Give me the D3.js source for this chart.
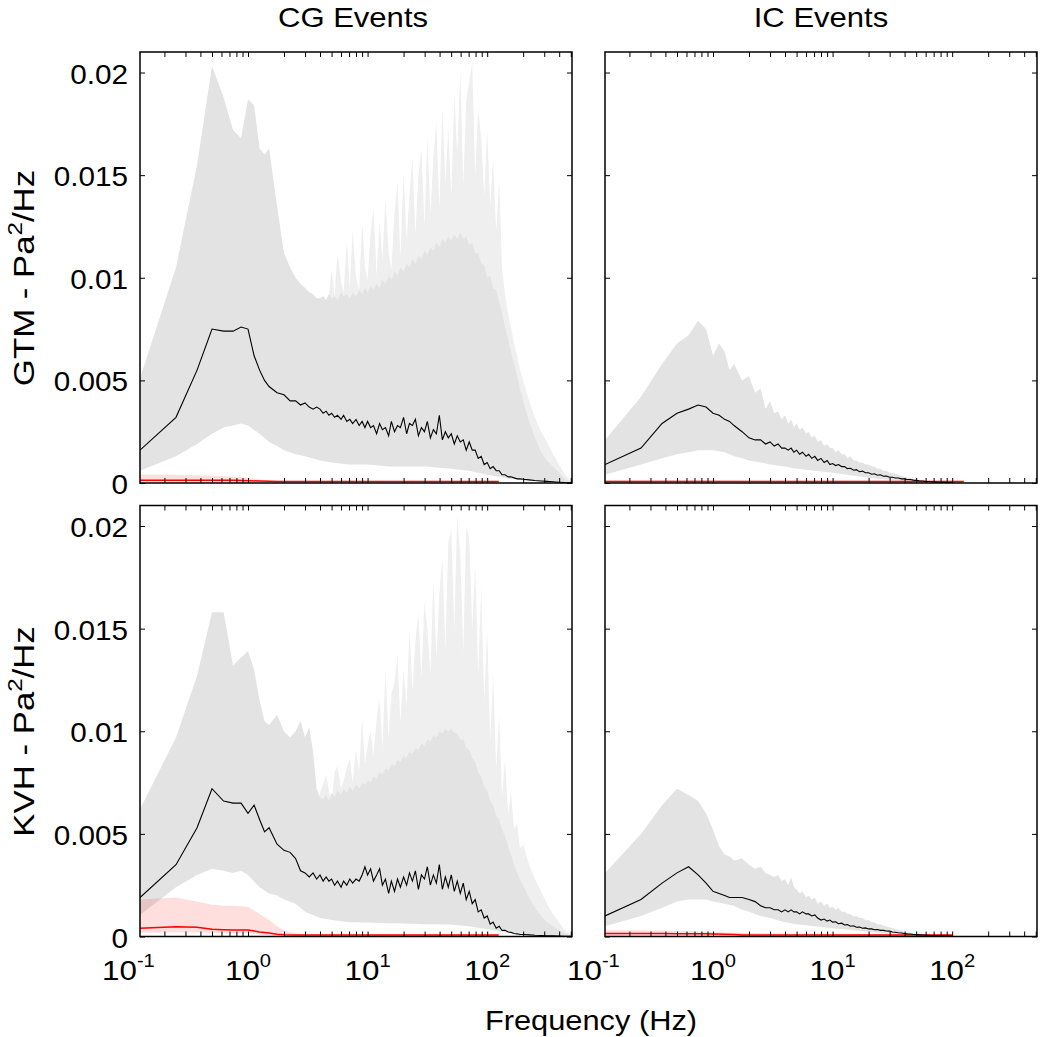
<!DOCTYPE html>
<html>
<head>
<meta charset="utf-8">
<script src="https://cdn.jsdelivr.net/npm/d3@7"></script>
<style>
  body { margin: 0; background: #fff; }
  text { font-family: "Liberation Sans", Arial, Helvetica, sans-serif; fill: #000; }
</style>
</head>
<body>
<svg id="chart" width="1040" height="1037"></svg>
<script>
// frequency grid (Hz) for mean / upper band
const freqs = [0.125,0.25,0.375,0.5,0.625,0.75,0.875,1,1.125,1.25,1.375,1.5,1.75,2,2.25,2.5,2.75,3,3.25,3.5,3.75,
  4,4.25,4.5,4.75,5,5.3,5.6,6,6.3,6.7,7.1,7.5,8,8.5,9,9.5,
  10,10.6,11.2,11.9,12.6,13.3,14.1,15,15.8,16.8,17.8,18.8,
  20,21.2,22.4,23.7,25.1,26.6,28.2,29.9,31.6,33.5,35.5,37.6,39.8,42.2,44.7,47.3,
  50.1,53.1,56.2,59.6,63.1,66.8,70.8,75,79.4,84.1,89.1,94.4,
  100,106,112,119,126,133,141,150,158,168,178,188,
  200,224,251,282,316,355,398,447,500];
// coarse grid for lower band, noise band and noise line
const coarseF = [0.125,0.25,0.375,0.5,0.625,0.75,0.875,1,1.25,1.5,1.75,2,2.5,3,4,5,7,10,15,20,30,50,70,100,125,150,200,300,400,512];

// CG events, GTM
const cgGtmMean = [0.0016,0.0032,0.0055,0.0075,0.0074,0.0074,0.0076,0.0075,0.0062,0.0055,0.0050,0.0047,0.0044,0.0043,0.0040,0.0040,0.0038,0.0039,0.0037,0.0036,0.0037,
  0.0036,0.0034,0.0035,0.0033,0.0034,0.0032,0.0033,0.0031,0.0033,0.0030,0.0031,0.0029,0.0031,0.0028,0.0030,0.0027,
  0.0030,0.0027,0.0028,0.0024,0.0029,0.0026,0.0027,0.0023,0.0030,0.0025,0.0028,0.0027,
  0.0032,0.0024,0.0029,0.0028,0.0031,0.0023,0.0027,0.0025,0.0030,0.0022,0.0026,0.0024,0.0033,0.0021,0.0025,0.0022,
  0.0024,0.0019,0.0023,0.0020,0.0021,0.0016,0.0020,0.0016,0.0016,0.0012,0.0013,0.0009,
  0.0010,0.0007,0.0008,0.0006,0.0006,0.0004,0.0004,0.0003,0.0003,0.00025,0.0002,0.0002,
  0.00018,0.00015,0.00012,0.0001,0.00008,0.00006,0.00004,0.00002,0.00001];
const cgGtmUpper = [0.0051,0.0105,0.0155,0.0203,0.0188,0.0172,0.0168,0.0187,0.0184,0.0163,0.0160,0.0163,0.0135,0.0112,0.0105,0.0100,0.0097,0.0095,0.0093,0.0092,0.0090,
  0.0090,0.0091,0.0089,0.0092,0.0090,0.0091,0.0089,0.0093,0.0091,0.0092,0.0090,0.0093,0.0091,0.0094,0.0092,0.0095,
  0.0093,0.0096,0.0094,0.0097,0.0095,0.0099,0.0097,0.0101,0.0099,0.0103,0.0101,0.0105,
  0.0103,0.0107,0.0105,0.0109,0.0107,0.0111,0.0109,0.0113,0.0111,0.0115,0.0113,0.0117,0.0115,0.0119,0.0117,0.0120,
  0.0118,0.0121,0.0119,0.0122,0.0119,0.0120,0.0116,0.0117,0.0112,0.0112,0.0107,0.0106,
  0.0100,0.0101,0.0095,0.0094,0.0088,0.0083,0.0076,0.0070,0.0064,0.0058,0.0052,0.0046,
  0.0040,0.0030,0.0022,0.0015,0.0011,0.0008,0.0005,0.0002,0.00005];
// spiky envelope, from 4 Hz on (freqs index 21..)
const cgGtmSpike = [0.0090,0.0091,0.0089,0.0092,0.0104,0.0091,0.0112,0.0098,0.0093,0.0118,0.0095,0.0123,0.0100,0.0094,0.0128,0.0105,
  0.0099,0.0122,0.0134,0.0101,0.0127,0.0108,0.0139,0.0112,0.0104,0.0132,0.0146,0.0110,
  0.0151,0.0118,0.0140,0.0158,0.0121,0.0150,0.0163,0.0125,0.0169,0.0131,0.0158,0.0176,0.0134,0.0183,0.0146,0.0172,
  0.0140,0.0190,0.0160,0.0201,0.0145,0.0186,0.0196,0.0205,0.0150,0.0182,0.0168,0.0140,
  0.0172,0.0135,0.0158,0.0122,0.0148,0.0105,0.0092,0.0082,0.0076,0.0068,0.0062,0.0055,
  0.0050,0.0040,0.0032,0.0025,0.0020,0.0014,0.0009,0.0004,0.0001];
const cgGtmLower = [0.0006,0.0013,0.0019,0.0024,0.0027,0.0028,0.0029,0.0028,0.0024,0.0020,0.0018,0.0016,0.0014,0.0013,0.0011,0.0010,0.0009,0.0009,0.0008,0.0008,0.0008,0.0007,0.0006,0.0004,0.0003,0.00022,0.00013,0.00005,0.00002,0];
const cgGtmPink = [0.0004,0.0004,0.00038,0.00035,0.00033,0.0003,0.00028,0.00025,0.00017,0.00013,0.00012,0.00011,0.0001,0.0001,0.0001,0.0001,0.0001,0.0001,0.0001,0.0001,0.0001,0.0001,0.0001,0.0001,0.0001,null,null,null,null,null];
const cgGtmRed = [0.00014,0.00014,0.00014,0.00013,0.00013,0.00013,0.00012,0.00011,0.0001,0.00008,0.00007,0.00007,0.00007,0.00007,0.00007,0.00007,0.00007,0.00007,0.00007,0.00007,0.00007,0.00007,0.00007,0.00007,0.00007,null,null,null,null,null];

// CG events, KVH
const cgKvhMean = [0.0019,0.0035,0.0053,0.0072,0.0066,0.0065,0.0065,0.0060,0.0064,0.0057,0.0051,0.0053,0.0045,0.0042,0.0041,0.0038,0.0032,0.0031,0.0029,0.0031,0.0028,
  0.0030,0.0027,0.0029,0.0027,0.0028,0.0025,0.0027,0.0024,0.0027,0.0025,0.0028,0.0026,0.0028,0.0027,0.0030,0.0034,
  0.0030,0.0033,0.0027,0.0030,0.0033,0.0025,0.0028,0.0021,0.0027,0.0022,0.0028,0.0024,
  0.0029,0.0025,0.0031,0.0027,0.0032,0.0023,0.0030,0.0028,0.0034,0.0025,0.0030,0.0026,0.0035,0.0023,0.0029,0.0024,
  0.0030,0.0022,0.0027,0.0021,0.0026,0.0018,0.0022,0.0016,0.0018,0.0012,0.0013,0.0009,
  0.0010,0.0006,0.0007,0.0004,0.0005,0.0003,0.0003,0.00022,0.0002,0.00015,0.00013,0.0001,
  0.0001,0.00008,0.00006,0.00005,0.00004,0.00003,0.00002,0.00001,0.00001];
const cgKvhUpper = [0.0062,0.0097,0.0127,0.0158,0.0158,0.0132,0.0136,0.0139,0.0130,0.0115,0.0105,0.0103,0.0108,0.0100,0.0097,0.0100,0.0105,0.0097,0.0102,0.0090,0.0072,
  0.0068,0.0067,0.0069,0.0066,0.0070,0.0068,0.0071,0.0069,0.0072,0.0070,0.0073,0.0071,0.0074,0.0072,0.0075,0.0074,
  0.0076,0.0075,0.0078,0.0077,0.0080,0.0079,0.0082,0.0081,0.0084,0.0083,0.0086,0.0085,
  0.0088,0.0087,0.0090,0.0089,0.0092,0.0091,0.0094,0.0093,0.0096,0.0095,0.0098,0.0097,0.0100,0.0099,0.0101,0.0100,
  0.0101,0.0099,0.0099,0.0096,0.0096,0.0092,0.0091,0.0087,0.0085,0.0080,0.0078,0.0073,
  0.0071,0.0066,0.0064,0.0059,0.0057,0.0052,0.0049,0.0044,0.0040,0.0035,0.0031,0.0028,
  0.0025,0.0019,0.0014,0.0010,0.0007,0.0005,0.0003,0.00015,0.00005];
const cgKvhSpike = [0.0070,0.0074,0.0079,0.0071,0.0066,0.0080,0.0083,0.0072,0.0076,0.0082,0.0087,0.0075,0.0091,0.0080,0.0107,0.0084,
  0.0093,0.0100,0.0088,0.0106,0.0116,0.0092,0.0129,0.0097,0.0118,0.0124,0.0137,0.0104,
  0.0130,0.0112,0.0149,0.0120,0.0144,0.0158,0.0126,0.0163,0.0150,0.0128,0.0173,0.0136,0.0167,0.0184,0.0140,0.0192,
  0.0198,0.0150,0.0205,0.0186,0.0138,0.0200,0.0194,0.0150,0.0181,0.0128,0.0170,0.0115,
  0.0150,0.0095,0.0128,0.0082,0.0108,0.0068,0.0086,0.0060,0.0070,0.0052,0.0055,0.0043,
  0.0045,0.0035,0.0028,0.0022,0.0016,0.0011,0.0007,0.0003,0.0001];
const cgKvhLower = [0.00105,0.0024,0.0030,0.0033,0.0032,0.0031,0.0032,0.0030,0.0024,0.0021,0.0020,0.0018,0.0016,0.0012,0.0009,0.0008,0.0007,0.00068,0.00064,0.00063,0.0006,0.00058,0.0005,0.00035,0.00025,0.00018,0.0001,0.00004,0.00001,0];
const cgKvhPink = [0.0018,0.0019,0.0017,0.00155,0.0015,0.0015,0.00148,0.00145,0.0011,0.0008,0.0005,0.0003,0.00015,0.0001,0.0001,0.0001,0.0001,0.0001,0.0001,0.0001,0.0001,0.0001,0.0001,0.0001,0.0001,null,null,null,null,null];
const cgKvhPinkLo = [0.00018,0.0002,0.0002,0.00018,0.00016,0.00016,0.00016,0.00016,0.0001,0.00006,0.00002,0,0,0,0,0,0,0,0,0,0,0,0,0,0,null,null,null,null,null];
const cgKvhRed = [0.0004,0.00048,0.00045,0.00035,0.00033,0.00032,0.00032,0.00032,0.00022,0.00017,0.00011,0.00008,0.00007,0.00007,0.00007,0.00007,0.00007,0.00007,0.00007,0.00007,0.00007,0.00007,0.00007,0.00007,0.00007,null,null,null,null,null];

// IC events, GTM
const icGtmMean = [0.0009,0.0017,0.0029,0.0034,0.0036,0.0038,0.0037,0.0034,0.0033,0.0031,0.0030,0.0028,0.0025,0.0022,0.0021,0.0021,0.0019,0.0020,0.0018,0.0019,0.0017,
  0.0017,0.0016,0.0017,0.0015,0.0016,0.0014,0.0015,0.0013,0.0014,0.0012,0.0013,0.0011,0.0012,0.0010,0.0011,0.0009,
  0.00095,0.00085,0.0009,0.0008,0.0008,0.0007,0.00072,0.00062,0.00065,0.00055,0.00058,0.0005,
  0.0005,0.00043,0.00045,0.00038,0.0004,0.00033,0.00034,0.00028,0.00028,0.00024,0.00024,0.0002,0.0002,0.00017,0.00017,0.00014,
  0.00013,0.00011,0.0001,0.00008,0.00007,0.00006,0.00005,0.00004,0.00004,0.00003,0.00002,0.00002,
  0.00001,null,null,null,null,null,null,null,null,null,null,null,
  null,null,null,null,null,null,null,null,null];
const icGtmUpper = [0.0021,0.0042,0.0058,0.0068,0.0072,0.0079,0.0075,0.0062,0.0068,0.0064,0.0055,0.0058,0.0050,0.0052,0.0044,0.0046,0.0036,0.0040,0.0034,0.0035,0.0031,
  0.0033,0.0029,0.0031,0.0027,0.0029,0.0026,0.0027,0.0024,0.0025,0.0022,0.0023,0.0020,0.0021,0.0018,0.0019,0.0017,
  0.0017,0.0015,0.0016,0.0014,0.0014,0.0012,0.0013,0.0011,0.0011,0.0010,0.0010,0.0009,
  0.0009,0.0008,0.0008,0.0007,0.0007,0.0006,0.0006,0.0005,0.0005,0.00045,0.0004,0.00035,0.0003,0.00027,0.00024,0.0002,
  0.00018,0.00015,0.00013,0.0001,0.00008,0.00006,0.00005,0.00004,0.00003,0.00002,0.00002,0.00001,
  0.00001,null,null,null,null,null,null,null,null,null,null,null,
  null,null,null,null,null,null,null,null,null];
const icGtmLower = [0.0004,0.0009,0.0012,0.0014,0.0015,0.0016,0.0016,0.0016,0.0015,0.0013,0.0012,0.0011,0.0010,0.0009,0.0008,0.0007,0.0006,0.0005,0.00035,0.00025,0.00015,0.00007,0.00004,0.00002,0.00001,0,0,0,0,0];
const icGtmPink = [0.00014,0.00014,0.00014,0.00013,0.00013,0.00013,0.00013,0.00012,0.00012,0.00012,0.00011,0.00011,0.00011,0.00011,0.00011,0.00011,0.00011,0.00011,0.00011,0.00011,0.00011,0.00011,0.00011,0.00011,0.00011,null,null,null,null,null];
const icGtmRed = [0.00007,0.00007,0.00007,0.00007,0.00007,0.00007,0.00007,0.00007,0.00007,0.00007,0.00007,0.00007,0.00007,0.00007,0.00007,0.00007,0.00007,0.00007,0.00007,0.00007,0.00007,0.00007,0.00007,0.00007,0.00007,null,null,null,null,null];

// IC events, KVH
const icKvhMean = [0.0010,0.0018,0.0026,0.0031,0.0034,0.0030,0.0026,0.0022,0.0021,0.0020,0.0019,0.0019,0.0019,0.0018,0.0017,0.0015,0.0014,0.0014,0.0013,0.0013,0.0012,
  0.0013,0.0012,0.0013,0.0012,0.0012,0.0011,0.0012,0.0011,0.0011,0.0010,0.00105,0.0009,0.0008,0.00085,0.00075,0.0008,
  0.0007,0.00072,0.00062,0.00065,0.00056,0.00058,0.0005,0.00052,0.00045,0.00046,0.0004,0.00042,
  0.00037,0.00037,0.00033,0.00034,0.0003,0.0003,0.00027,0.00026,0.00022,0.00021,0.00018,0.00017,0.00015,0.00013,0.00012,0.0001,
  0.00009,0.00008,0.00007,0.00006,0.00006,0.00005,0.00005,0.00004,0.00004,0.00003,0.00003,0.00002,
  0.00002,null,null,null,null,null,null,null,null,null,null,null,
  null,null,null,null,null,null,null,null,null];
const icKvhUpper = [0.0031,0.0050,0.0064,0.0072,0.0069,0.0066,0.0060,0.0052,0.0044,0.0040,0.0039,0.0037,0.0038,0.0035,0.0033,0.0034,0.0031,0.0030,0.0029,0.0030,0.0027,
  0.0028,0.0025,0.0029,0.0024,0.0023,0.0021,0.0022,0.0019,0.0020,0.0018,0.0019,0.0016,0.0017,0.0015,0.0016,0.0014,
  0.00145,0.0013,0.0014,0.0012,0.0012,0.0011,0.0011,0.00098,0.0010,0.0009,0.0009,0.0008,
  0.0008,0.0007,0.0007,0.0006,0.0006,0.00052,0.0005,0.00045,0.00042,0.00037,0.00033,0.0003,0.00026,0.00022,0.0002,0.00017,
  0.00014,0.00012,0.0001,0.00008,0.00007,0.00006,0.00005,0.00004,0.00003,0.00002,0.00002,0.00001,
  0.00001,null,null,null,null,null,null,null,null,null,null,null,
  null,null,null,null,null,null,null,null,null];
const icKvhLower = [0.0005,0.0010,0.0014,0.0017,0.0018,0.0018,0.0018,0.0017,0.0016,0.0015,0.0013,0.0012,0.0010,0.0009,0.0007,0.0006,0.0005,0.0004,0.0003,0.00022,0.00014,0.00007,0.00004,0.00002,0.00001,0,0,0,0,0];
const icKvhPink = [0.0003,0.0003,0.00028,0.00027,0.00025,0.00024,0.00023,0.00022,0.0002,0.00019,0.00018,0.00017,0.00016,0.00015,0.00014,0.00013,0.00013,0.00012,0.00012,0.00012,0.00012,0.00012,0.00012,0.00012,null,null,null,null,null,null];
const icKvhRed = [0.00015,0.00015,0.00015,0.00014,0.00014,0.00013,0.00013,0.00012,0.00011,0.0001,0.00007,0.00007,0.00007,0.00007,0.00007,0.00007,0.00007,0.00007,0.00007,0.00007,0.00007,0.00007,0.00007,0.00007,null,null,null,null,null,null];

// axis ticks and labels
const xTickVals = [0.2,0.3,0.4,0.5,0.6,0.7,0.8,0.9,1,2,3,4,5,6,7,8,9,10,20,30,40,50,60,70,80,90,100,200,300,400,500];
const xLabelVals = [0.1, 1, 10, 100];
const xLabelExps = ['-1', '0', '1', '2'];
const yTickVals = [0, 0.005, 0.01, 0.015, 0.02];
const yTickLabels = ['0', '0.005', '0.01', '0.015', '0.02'];

const svg = d3.select('#chart');
const W = 432, H = 431;

const xScale = d3.scaleLog().domain([0.125, 512]).range([0, W]);
const yScale = d3.scaleLinear().domain([0, 0.021]).range([H, 0]);
const spikeF = freqs.slice(21);

const panels = [
    {left: 140, top: 52, mean: cgGtmMean, upper: cgGtmUpper, spike: cgGtmSpike, lower: cgGtmLower, pinkHi: cgGtmPink, pinkLo: null, red: cgGtmRed, yLab: true, xLab: false},
    {left: 605, top: 52, mean: icGtmMean, upper: icGtmUpper, spike: null, lower: icGtmLower, pinkHi: icGtmPink, pinkLo: null, red: icGtmRed, yLab: false, xLab: false},
    {left: 140, top: 505.5, mean: cgKvhMean, upper: cgKvhUpper, spike: cgKvhSpike, lower: cgKvhLower, pinkHi: cgKvhPink, pinkLo: cgKvhPinkLo, red: cgKvhRed, yLab: true, xLab: true},
    {left: 605, top: 505.5, mean: icKvhMean, upper: icKvhUpper, spike: null, lower: icKvhLower, pinkHi: icKvhPink, pinkLo: null, red: icKvhRed, yLab: false, xLab: true}
];

function addText(parent, x, y, str, size, anchor, stretch) {
    return parent.append('text')
        .attr('transform', 'translate(' + x + ',' + y + ') scale(' + stretch + ',1)')
        .attr('text-anchor', anchor)
        .style('font-size', size + 'px')
        .text(str);
}

function fillFromZero(fs, vs) {
    return d3.area()
        .defined(function (d) { return d != null; })
        .x(function (d, i) { return xScale(fs[i]); })
        .y0(H)
        .y1(function (d) { return yScale(d); })(vs);
}

function lineOf(fs, vs) {
    return d3.line()
        .defined(function (d) { return d != null; })
        .x(function (d, i) { return xScale(fs[i]); })
        .y(function (d) { return yScale(d); })(vs);
}

panels.forEach(function (p, k) {
    const g = svg.append('g').attr('transform', 'translate(' + p.left + ',' + p.top + ')');

    g.append('clipPath').attr('id', 'clip' + k)
        .append('rect').attr('width', W).attr('height', H);
    const plot = g.append('g').attr('clip-path', 'url(#clip' + k + ')');

    if (p.spike) {
        plot.append('path').attr('d', fillFromZero(spikeF, p.spike)).attr('fill', '#efefef');
    }
    plot.append('path').attr('d', fillFromZero(freqs, p.upper)).attr('fill', '#e3e3e3');
    plot.append('path').attr('d', fillFromZero(coarseF, p.lower)).attr('fill', '#ffffff');

    const pink = d3.area()
        .defined(function (d) { return d != null; })
        .x(function (d, i) { return xScale(coarseF[i]); })
        .y0(function (d, i) { return p.pinkLo ? yScale(p.pinkLo[i]) : H; })
        .y1(function (d) { return yScale(d); });
    plot.append('path').attr('d', pink(p.pinkHi)).attr('fill', '#ff0000').attr('fill-opacity', 0.13);

    plot.append('path').attr('d', lineOf(coarseF, p.red))
        .attr('fill', 'none').attr('stroke', '#ff0000').attr('stroke-width', 1.5);
    plot.append('path').attr('d', lineOf(freqs, p.mean))
        .attr('fill', 'none').attr('stroke', '#000').attr('stroke-width', 1.1);

    // ticks point inward on all four sides
    g.append('g').attr('transform', 'translate(0,' + H + ')')
        .call(d3.axisBottom(xScale).tickValues(xTickVals).tickSize(-5).tickFormat(''))
        .call(function (a) { a.select('.domain').remove(); });
    g.append('g')
        .call(d3.axisTop(xScale).tickValues(xTickVals).tickSize(-5).tickFormat(''))
        .call(function (a) { a.select('.domain').remove(); });
    g.append('g')
        .call(d3.axisLeft(yScale).tickValues(yTickVals).tickSize(-5).tickFormat(''))
        .call(function (a) { a.select('.domain').remove(); });
    g.append('g').attr('transform', 'translate(' + W + ',0)')
        .call(d3.axisRight(yScale).tickValues(yTickVals).tickSize(-5).tickFormat(''))
        .call(function (a) { a.select('.domain').remove(); });

    g.append('rect').attr('width', W).attr('height', H)
        .attr('fill', 'none').attr('stroke', '#000').attr('stroke-width', 1.5);

    if (p.yLab) {
        yTickVals.forEach(function (v, i) {
            addText(g, -12, yScale(v) + 11, yTickLabels[i], 27, 'end', 1.1);
        });
    }
    if (p.xLab) {
        xLabelVals.forEach(function (v, i) {
            const t = addText(g, xScale(v), H + 43.5, '10', 28, 'middle', 1.12);
            t.append('tspan').attr('dy', -13).style('font-size', '18px').text(xLabelExps[i]);
        });
    }
});

// titles
addText(svg, 353, 27, 'CG Events', 27, 'middle', 1.15);
addText(svg, 821, 27, 'IC Events', 27, 'middle', 1.15);

// y labels
['GTM', 'KVH'].forEach(function (name, i) {
    const cy = [278, 731.5][i];
    const t = svg.append('text')
        .attr('transform', 'translate(34,' + cy + ') rotate(-90) scale(1.2,1)')
        .attr('text-anchor', 'middle')
        .style('font-size', '29px')
        .text(name + ' - Pa');
    t.append('tspan').attr('dy', -12).style('font-size', '20px').text('2');
    t.append('tspan').attr('dy', 12).text('/Hz');
});

// x label
addText(svg, 591, 1030, 'Frequency (Hz)', 28, 'middle', 1.1);
</script>
</body>
</html>
